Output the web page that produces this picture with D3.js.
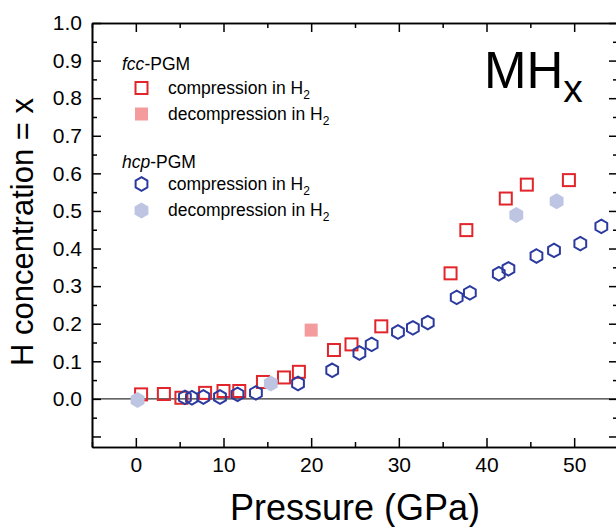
<!DOCTYPE html>
<html>
<meta charset="utf-8">
<script src="https://cdn.jsdelivr.net/npm/d3@7/dist/d3.min.js"></script>
<style>
body{margin:0;background:#fff;}
text{font-family:"Liberation Sans",Arial,Helvetica,sans-serif;fill:#000;}
</style>
<body>
<svg id="chart" width="616" height="527"></svg>
<script>
// fcc-PGM, compression in H2
var fccCompP = [0.6, 3.2, 5.2, 7.9, 10.0, 11.8, 14.5, 16.9, 18.6, 22.6, 24.6, 28.0, 35.9, 37.7, 42.2, 44.6, 49.4];
var fccCompX = [0.012, 0.013, 0.003, 0.016, 0.021, 0.021, 0.045, 0.057, 0.072, 0.130, 0.145, 0.193, 0.334, 0.449, 0.533, 0.570, 0.582];
// fcc-PGM, decompression in H2
var fccDecP = [20.0];
var fccDecX = [0.183];
// hcp-PGM, compression in H2
var hcpCompP = [5.6, 6.4, 7.7, 9.6, 11.6, 13.7, 18.5, 22.4, 25.5, 26.9, 29.9, 31.6, 33.3, 36.6, 38.1, 41.4, 42.5, 45.7, 47.7, 50.7, 53.1];
var hcpCompX = [0.004, 0.003, 0.005, 0.005, 0.012, 0.016, 0.041, 0.076, 0.122, 0.145, 0.178, 0.189, 0.203, 0.270, 0.282, 0.333, 0.346, 0.380, 0.395, 0.413, 0.459];
// hcp-PGM, decompression in H2
var hcpDecP = [0.2, 15.4, 43.4, 48.0];
var hcpDecX = [-0.003, 0.041, 0.489, 0.526];

var xMajor = [0, 10, 20, 30, 40, 50];
var xMinor = [-5, 5, 15, 25, 35, 45, 55];
var yMajor = [-0.1, 0.0, 0.1, 0.2, 0.3, 0.4, 0.5, 0.6, 0.7, 0.8, 0.9, 1.0];
var yMinor = [-0.05, 0.05, 0.15, 0.25, 0.35, 0.45, 0.55, 0.65, 0.75, 0.85, 0.95];

var RED = "#e1252b", RED_L = "#f39b9d", BLUE = "#2b3a9e", BLUE_L = "#bec5e3";

var pL = 92, pR = 618, pT = 23, pB = 447;
var svg = d3.select("#chart");
var x = d3.scaleLinear().domain([-5, 55]).range([pL, pR]);
var y = d3.scaleLinear().domain([-0.128, 1.0]).range([pB, pT]);

function hexPath(r){
	var pts = d3.range(6).map(function(i){
		var a = Math.PI/3*i - Math.PI/2;
		return [r*Math.cos(a), r*Math.sin(a)];
	});
	return d3.line()(pts) + "Z";
}

// zero line
svg.append("line").attr("x1", pL).attr("x2", pR).attr("y1", y(0)).attr("y2", y(0))
	.attr("stroke", "#333").attr("stroke-width", 1.2);

// axes
function styleAxis(g){
	g.select(".domain").attr("stroke", "#000").attr("stroke-width", 1.6);
	g.selectAll(".tick line").attr("stroke", "#000").attr("stroke-width", 1.5);
}
var fmt = function(d){ return d < -0.01 ? "" : d3.format(".1f")(d); };

svg.append("g").attr("transform", "translate(0," + pB + ")")
	.call(d3.axisBottom(x).tickValues(xMinor).tickSize(-5).tickFormat("").tickSizeOuter(0)).call(styleAxis);
svg.append("g").attr("transform", "translate(0," + pB + ")")
	.call(d3.axisBottom(x).tickValues(xMajor).tickSize(-9).tickPadding(10).tickSizeOuter(0)).call(styleAxis)
	.selectAll("text").attr("font-size", 21).attr("fill", "#000").attr("font-family", "Liberation Sans, Arial, sans-serif");
svg.append("g").attr("transform", "translate(0," + pT + ")")
	.call(d3.axisTop(x).tickValues(xMinor).tickSize(-5).tickFormat("").tickSizeOuter(0)).call(styleAxis);
svg.append("g").attr("transform", "translate(0," + pT + ")")
	.call(d3.axisTop(x).tickValues(xMajor).tickSize(-9).tickFormat("").tickSizeOuter(0)).call(styleAxis);

svg.append("g").attr("transform", "translate(" + pL + ",0)")
	.call(d3.axisLeft(y).tickValues(yMinor).tickSize(-5).tickFormat("").tickSizeOuter(0)).call(styleAxis);
svg.append("g").attr("transform", "translate(" + pL + ",0)")
	.call(d3.axisLeft(y).tickValues(yMajor).tickSize(-9).tickPadding(10).tickFormat(fmt).tickSizeOuter(0)).call(styleAxis)
	.selectAll("text").attr("font-size", 21).attr("fill", "#000").attr("font-family", "Liberation Sans, Arial, sans-serif");
svg.append("g").attr("transform", "translate(" + pR + ",0)")
	.call(d3.axisRight(y).tickValues(yMinor).tickSize(-5).tickFormat("").tickSizeOuter(0)).call(styleAxis);
svg.append("g").attr("transform", "translate(" + pR + ",0)")
	.call(d3.axisRight(y).tickValues(yMajor).tickSize(-9).tickFormat("").tickSizeOuter(0)).call(styleAxis);

// axis titles
svg.append("text").attr("x", (pL + pR)/2).attr("y", 520).attr("text-anchor", "middle")
	.attr("font-size", 36).text("Pressure (GPa)");
svg.append("text").attr("transform", "translate(33,232) rotate(-90)")
	.attr("text-anchor", "middle").attr("font-size", 31).text("H concentration = x");

// markers
var sq = 12;
svg.append("g").selectAll("rect").data(d3.zip(fccCompP, fccCompX)).join("rect")
	.attr("x", function(d){ return x(d[0]) - sq/2; }).attr("y", function(d){ return y(d[1]) - sq/2; })
	.attr("width", sq).attr("height", sq).attr("fill", "none").attr("stroke", RED).attr("stroke-width", 2);
svg.append("g").selectAll("rect").data(d3.zip(fccDecP, fccDecX)).join("rect")
	.attr("x", function(d){ return x(d[0]) - 6.5; }).attr("y", function(d){ return y(d[1]) - 6.5; })
	.attr("width", 13).attr("height", 13).attr("fill", RED_L);
svg.append("g").selectAll("path").data(d3.zip(hcpCompP, hcpCompX)).join("path")
	.attr("transform", function(d){ return "translate(" + x(d[0]) + "," + y(d[1]) + ")"; })
	.attr("d", hexPath(6.8)).attr("fill", "none").attr("stroke", BLUE).attr("stroke-width", 2);
svg.append("g").selectAll("path").data(d3.zip(hcpDecP, hcpDecX)).join("path")
	.attr("transform", function(d){ return "translate(" + x(d[0]) + "," + y(d[1]) + ")"; })
	.attr("d", hexPath(8)).attr("fill", BLUE_L);

// legend
var lg = svg.append("g");
var lx = 141.5, tx = 168;
function subText(t, xx, yy){
	var el = lg.append("text").attr("x", xx).attr("y", yy).attr("font-size", 17.5);
	el.append("tspan").text(t);
	el.append("tspan").attr("dy", 5).attr("font-size", 12).text("2");
}
var h1 = lg.append("text").attr("x", 122).attr("y", 70).attr("font-size", 17.5);
h1.append("tspan").attr("font-style", "italic").text("fcc");
h1.append("tspan").text("-PGM");
lg.append("rect").attr("x", lx - 6).attr("y", 88 - 6).attr("width", 12).attr("height", 12)
	.attr("fill", "none").attr("stroke", RED).attr("stroke-width", 2);
subText("compression in H", tx, 94);
lg.append("rect").attr("x", lx - 6.5).attr("y", 114 - 6.5).attr("width", 13).attr("height", 13).attr("fill", RED_L);
subText("decompression in H", tx, 120);
var h2 = lg.append("text").attr("x", 122).attr("y", 168).attr("font-size", 17.5);
h2.append("tspan").attr("font-style", "italic").text("hcp");
h2.append("tspan").text("-PGM");
lg.append("path").attr("transform", "translate(" + lx + ",184)").attr("d", hexPath(6.8))
	.attr("fill", "none").attr("stroke", BLUE).attr("stroke-width", 2);
subText("compression in H", tx, 190);
lg.append("path").attr("transform", "translate(" + lx + ",210.5)").attr("d", hexPath(8)).attr("fill", BLUE_L);
subText("decompression in H", tx, 216);

// MHx label
var mh = svg.append("text").attr("x", 484).attr("y", 88).attr("font-size", 51);
mh.append("tspan").text("MH");
mh.append("tspan").attr("dy", 14).attr("font-size", 39).text("x");
</script>
</body>
</html>
